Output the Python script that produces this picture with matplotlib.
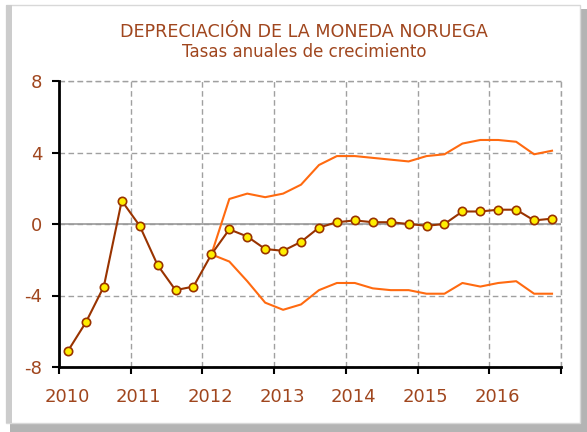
import matplotlib.pyplot as plt
from matplotlib.patches import Rectangle
from matplotlib.transforms import ScaledTranslation

plt.rcParams['axes.unicode_minus'] = False

# quarterly data, 2010Q1 .. 2016Q4
years = list(range(2010, 2017))
quarters = [y + (q - 0.5) / 4 for y in years for q in range(1, 5)]

tasa = [-7.1, -5.5, -3.5, 1.3,
        -0.1, -2.3, -3.7, -3.5,
        -1.7, -0.3, -0.7, -1.4,
        -1.5, -1.0, -0.2, 0.1,
        0.2, 0.1, 0.1, 0.0,
        -0.1, 0.0, 0.7, 0.7,
        0.8, 0.8, 0.2, 0.3]

# band from 2012Q1 onwards
banda_sup = [-1.7, 1.4, 1.7, 1.5,
             1.7, 2.2, 3.3, 3.8,
             3.8, 3.7, 3.6, 3.5,
             3.8, 3.9, 4.5, 4.7,
             4.7, 4.6, 3.9, 4.1]
banda_inf = [-1.7, -2.1, -3.2, -4.4,
             -4.8, -4.5, -3.7, -3.3,
             -3.3, -3.6, -3.7, -3.7,
             -3.9, -3.9, -3.3, -3.5,
             -3.3, -3.2, -3.9, -3.9]
x_banda = quarters[8:]

brown = '#A0461E'
line_brown = '#993300'
orange = '#FF6A10'
grid_c = '#a0a0a0'

W, H = 587, 432
fig = plt.figure(figsize=(W / 100, H / 100), dpi=100)
fig.patch.set_facecolor('white')

# frame with shadow
fig.patches.append(Rectangle((10 / W, 0), 577 / W, 423 / H, transform=fig.transFigure,
                             facecolor='#b4b4b4', edgecolor='none', zorder=-3))
fig.patches.append(Rectangle((6 / W, 9 / H), 574 / W, 418 / H, transform=fig.transFigure,
                             facecolor='white', edgecolor='#d8d8d8', lw=1, zorder=-2))
fig.patches.append(Rectangle((6 / W, 9 / H), 6 / W, 418 / H, transform=fig.transFigure,
                             facecolor='#cccccc', edgecolor='none', zorder=-1))

ax = fig.add_axes([59 / W, 1 - 367 / H, 502 / W, 286 / H])
ax.set_facecolor('none')

ax.plot(x_banda, banda_sup, color=orange, lw=1.5, zorder=3)
ax.plot(x_banda, banda_inf, color=orange, lw=1.5, zorder=3)
ax.plot(quarters, tasa, color=line_brown, lw=1.5, marker='o', markersize=6,
        markerfacecolor='#FFEE00', markeredgecolor=line_brown, markeredgewidth=1.2,
        zorder=4)

ax.set_xlim(2010, 2017)
ax.set_ylim(-8, 8)
ax.set_xticks(range(2010, 2018))
ax.set_xticklabels([str(y) for y in years] + [''])
ax.set_yticks([-8, -4, 0, 4, 8])

dash = (0, (4, 2.5))
ax.grid(True, color=grid_c, ls=dash, lw=1)
ax.axvline(2017, color=grid_c, ls=dash, lw=1, clip_on=False)
ax.axhline(8, color=grid_c, ls=dash, lw=1, clip_on=False)
ax.axhline(0, color='#999999', lw=1.2, zorder=2)

for s in ['top', 'right']:
    ax.spines[s].set_visible(False)
for s in ['left', 'bottom']:
    ax.spines[s].set_linewidth(2)
    ax.spines[s].set_zorder(5)

ax.tick_params(axis='y', length=5, width=1.5, pad=7, labelsize=13, labelcolor=brown)
ax.tick_params(axis='x', length=5, width=1.5, pad=10, labelsize=13, labelcolor=brown)

offset = ScaledTranslation(8 / 100, 0, fig.dpi_scale_trans)
for lab in ax.get_xticklabels():
    lab.set_transform(lab.get_transform() + offset)

fig.text(304 / W, 1 - 32 / H, 'DEPRECIACIÓN DE LA MONEDA NORUEGA', ha='center', va='center',
         fontsize=12.6, color=brown)
fig.text(304 / W, 1 - 52 / H, 'Tasas anuales de crecimiento', ha='center', va='center',
         fontsize=12, color=brown)

fig.savefig('out.png', dpi=100)
